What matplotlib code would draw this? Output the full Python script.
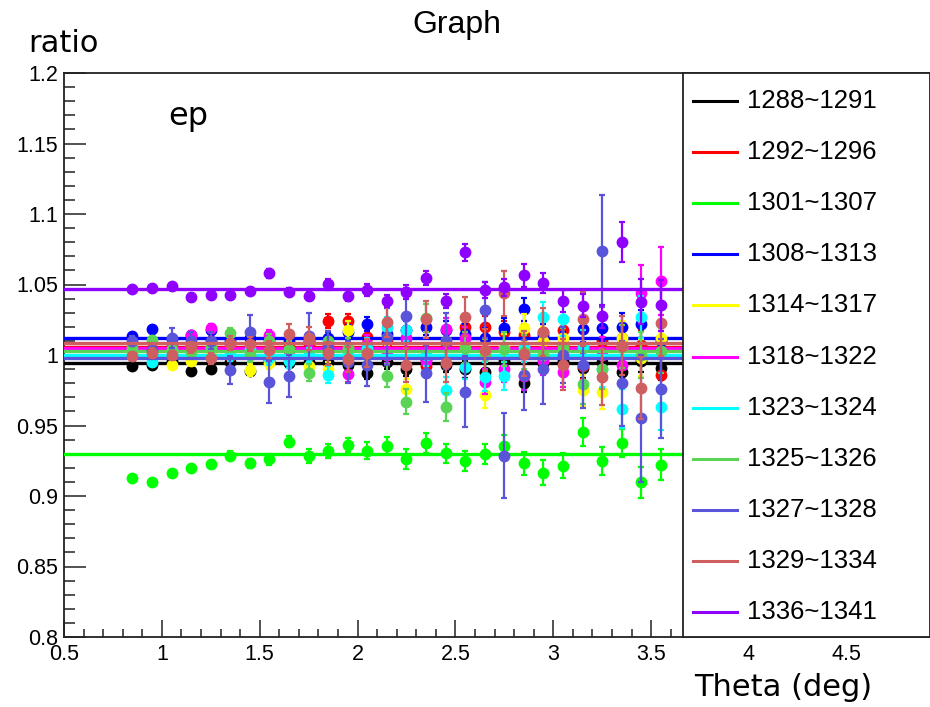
import matplotlib
matplotlib.use("Agg")
import matplotlib.pyplot as plt
from matplotlib.patches import Rectangle
from matplotlib.ticker import MultipleLocator

# theta bin centres (deg)
theta = [0.85, 0.95, 1.05, 1.15, 1.25, 1.35, 1.45, 1.55, 1.65, 1.75,
         1.85, 1.95, 2.05, 2.15, 2.25, 2.35, 2.45, 2.55, 2.65, 2.75,
         2.85, 2.95, 3.05, 3.15, 3.25, 3.35, 3.45, 3.55]

labels = ["1288~1291", "1292~1296", "1301~1307", "1308~1313", "1314~1317",
          "1318~1322", "1323~1324", "1325~1326", "1327~1328", "1329~1334",
          "1336~1341"]
colors = ["#000000", "#ff0000", "#00ff00", "#0000ff", "#ffff00",
          "#ff00ff", "#00ffff", "#59d454", "#5954d9", "#cf5e61", "#9000ff"]

# constant fit values
fits = [0.9945, 1.0060, 0.9300, 1.0121, 1.0040, 1.0047, 1.0000, 1.0030,
        0.9977, 1.0084, 1.0468]

r_1288 = [0.992, 0.993, 0.996, 0.989, 0.990, 0.995, 0.989, 0.996, 0.994, 0.995,
          0.995, 0.993, 0.987, 0.995, 0.990, 0.997, 0.993, 0.990, 0.988, 0.996,
          0.980, 0.994, 0.996, 0.991, 0.995, 0.988, 0.996, 0.991]
e_1288 = [0.001, 0.001, 0.002, 0.002, 0.002, 0.002, 0.003, 0.003, 0.003, 0.003,
          0.004, 0.004, 0.004, 0.005, 0.005, 0.005, 0.005, 0.006, 0.006, 0.006,
          0.006, 0.007, 0.007, 0.007, 0.008, 0.008, 0.008, 0.009]

r_1292 = [1.003, 1.004, 1.006, 1.007, 1.010, 0.999, 1.005, 1.010, 1.006, 1.008,
          1.0244, 1.0244, 1.013, 1.010, 1.012, 0.992, 1.006, 1.020, 1.020, 1.016,
          1.014, 1.016, 1.018, 0.992, 1.010, 1.012, 1.007, 0.986]
e_1292 = [0.002, 0.002, 0.002, 0.003, 0.003, 0.003, 0.004, 0.004, 0.004, 0.005,
          0.005, 0.005, 0.006, 0.006, 0.006, 0.007, 0.007, 0.007, 0.008, 0.008,
          0.008, 0.009, 0.009, 0.009, 0.010, 0.010, 0.011, 0.011]

r_1301 = [0.9125, 0.9099, 0.9165, 0.9199, 0.9227, 0.9286, 0.9232, 0.9260, 0.9385, 0.9286,
          0.9317, 0.9364, 0.9321, 0.9357, 0.9262, 0.9378, 0.9302, 0.9246, 0.9298, 0.9355,
          0.9232, 0.9165, 0.9215, 0.9452, 0.9248, 0.9374, 0.9097, 0.9220]
e_1301 = [0.001, 0.001, 0.001, 0.001, 0.002, 0.003, 0.003, 0.004, 0.004, 0.005,
          0.005, 0.005, 0.006, 0.006, 0.007, 0.007, 0.007, 0.007, 0.007, 0.008,
          0.008, 0.009, 0.009, 0.010, 0.010, 0.010, 0.011, 0.011]

r_1308 = [1.0135, 1.0187, 1.011, 1.0142, 1.018, 1.010, 1.012, 1.012, 1.010, 1.010,
          1.012, 1.016, 1.0218, 1.015, 1.018, 1.0202, 1.018, 1.015, 1.012, 1.019,
          1.0323, 1.014, 1.008, 1.0182, 1.019, 1.020, 1.022, 1.010]
e_1308 = [0.001, 0.001, 0.002, 0.002, 0.002, 0.003, 0.003, 0.003, 0.004, 0.004,
          0.004, 0.005, 0.005, 0.005, 0.006, 0.006, 0.006, 0.007, 0.007, 0.007,
          0.008, 0.008, 0.008, 0.009, 0.009, 0.010, 0.010, 0.011]

r_1314 = [1.002, 1.000, 0.993, 0.996, 1.003, 1.005, 0.9894, 0.994, 1.003, 0.992,
          0.990, 1.0178, 1.005, 1.000, 0.976, 1.000, 1.010, 1.005, 0.9717, 1.006,
          1.019, 1.010, 1.0118, 0.975, 0.974, 1.012, 0.998, 1.012]
e_1314 = [0.002, 0.002, 0.002, 0.003, 0.003, 0.003, 0.004, 0.004, 0.005, 0.005,
          0.005, 0.006, 0.006, 0.007, 0.007, 0.008, 0.008, 0.008, 0.009, 0.009,
          0.010, 0.010, 0.011, 0.011, 0.012, 0.012, 0.013, 0.013]

r_1318 = [1.005, 1.003, 1.008, 1.0142, 1.019, 1.008, 1.006, 1.014, 1.000, 1.010,
          1.008, 0.9866, 1.008, 1.000, 1.012, 0.996, 1.0182, 1.012, 0.981, 0.990,
          0.985, 0.996, 0.988, 1.006, 1.000, 0.993, 1.0437, 1.0525]
e_1318 = [0.002, 0.002, 0.002, 0.003, 0.003, 0.003, 0.004, 0.004, 0.004, 0.005,
          0.005, 0.006, 0.006, 0.006, 0.007, 0.007, 0.008, 0.008, 0.009, 0.009,
          0.010, 0.010, 0.011, 0.012, 0.013, 0.014, 0.020, 0.024]

r_1323 = [1.000, 0.9953, 1.002, 1.003, 1.005, 1.000, 1.004, 0.998, 0.996, 1.000,
          0.9859, 1.003, 1.005, 1.0202, 1.0178, 1.000, 0.9752, 0.9918, 0.9847, 0.985,
          1.006, 1.0267, 1.0255, 1.006, 0.990, 0.962, 1.027, 0.963]
e_1323 = [0.002, 0.002, 0.003, 0.003, 0.003, 0.004, 0.004, 0.005, 0.005, 0.005,
          0.006, 0.006, 0.007, 0.007, 0.008, 0.008, 0.009, 0.009, 0.010, 0.010,
          0.011, 0.011, 0.012, 0.012, 0.013, 0.014, 0.015, 0.016]

r_1325 = [1.005, 1.0107, 1.004, 1.002, 1.006, 1.0154, 1.000, 1.010, 1.004, 0.9875,
          1.010, 1.005, 1.000, 0.9854, 0.967, 1.026, 0.963, 1.005, 1.000, 1.004,
          1.002, 1.000, 1.006, 0.9796, 0.990, 1.006, 1.000, 1.003]
e_1325 = [0.002, 0.002, 0.003, 0.003, 0.004, 0.004, 0.005, 0.005, 0.006, 0.006,
          0.007, 0.007, 0.008, 0.008, 0.009, 0.010, 0.010, 0.011, 0.011, 0.012,
          0.012, 0.013, 0.013, 0.014, 0.014, 0.015, 0.016, 0.016]

r_1327 = [1.0102, 1.0036, 1.0123, 1.010, 1.010, 0.9894, 1.0166, 0.981, 0.9851, 1.0135,
          1.005, 0.995, 0.993, 1.013, 1.0277, 0.987, 1.010, 0.974, 1.032, 0.9286,
          0.9858, 0.990, 1.000, 0.9926, 1.0737, 0.980, 0.955, 0.976]
e_1327 = [0.003, 0.004, 0.007, 0.006, 0.006, 0.010, 0.012, 0.015, 0.015, 0.016,
          0.012, 0.015, 0.015, 0.020, 0.020, 0.020, 0.020, 0.025, 0.020, 0.030,
          0.025, 0.025, 0.020, 0.030, 0.040, 0.030, 0.045, 0.035]

r_1329 = [0.9993, 1.0017, 1.000, 1.0055, 0.9977, 1.0083, 1.0078, 1.0036, 1.0149, 1.0118,
          1.0012, 0.997, 1.0017, 1.0237, 0.993, 1.0253, 0.9941, 1.0272, 1.0036, 1.0437,
          1.001, 1.0165, 0.993, 1.0257, 0.9846, 1.0066, 0.9763, 1.023]
e_1329 = [0.002, 0.003, 0.003, 0.004, 0.004, 0.005, 0.005, 0.006, 0.007, 0.008,
          0.008, 0.009, 0.010, 0.011, 0.012, 0.013, 0.013, 0.014, 0.015, 0.016,
          0.016, 0.017, 0.018, 0.019, 0.020, 0.021, 0.022, 0.024]

r_1336 = [1.0466, 1.0473, 1.0492, 1.0409, 1.0423, 1.0423, 1.0454, 1.0579, 1.0447, 1.0418,
          1.0501, 1.0421, 1.0461, 1.0383, 1.0449, 1.0548, 1.0385, 1.0728, 1.0461, 1.0480,
          1.0565, 1.0510, 1.0383, 1.0350, 1.0274, 1.0800, 1.0378, 1.0353]
e_1336 = [0.001, 0.001, 0.001, 0.001, 0.001, 0.002, 0.002, 0.003, 0.003, 0.003,
          0.004, 0.004, 0.004, 0.004, 0.005, 0.005, 0.005, 0.006, 0.006, 0.006,
          0.008, 0.007, 0.008, 0.008, 0.008, 0.014, 0.016, 0.018]

ratios = [r_1288, r_1292, r_1301, r_1308, r_1314, r_1318, r_1323, r_1325,
          r_1327, r_1329, r_1336]
errors = [e_1288, e_1292, e_1301, e_1308, e_1314, e_1318, e_1323, e_1325,
          e_1327, e_1329, e_1336]

W, H = 930, 707
fig = plt.figure(figsize=(W / 100, H / 100), dpi=100)
ax = fig.add_axes([64 / W, 70 / H, 866 / W, 564 / H])

for i in range(len(labels)):
    z = 3 + 2 * i
    ax.errorbar(theta, ratios[i], yerr=errors[i], fmt='o', color=colors[i],
                markersize=7.5, elinewidth=1.6, capsize=2.5, capthick=1.6,
                zorder=z)
    ax.axhline(fits[i], color=colors[i], lw=2.4, zorder=z + 1)

ax.set_xlim(0.5, 0.5 + 866 / 195.7)
ax.set_ylim(0.8, 1.2)
ax.xaxis.set_major_locator(MultipleLocator(0.5))
ax.xaxis.set_minor_locator(MultipleLocator(0.1))
ax.yaxis.set_major_locator(MultipleLocator(0.05))
ax.yaxis.set_minor_locator(MultipleLocator(0.01))
ax.set_xticks([0.5, 1, 1.5, 2, 2.5, 3, 3.5, 4, 4.5])
ax.set_xticklabels(["0.5", "1", "1.5", "2", "2.5", "3", "3.5", "4", "4.5"])
ax.set_yticks([0.8, 0.85, 0.9, 0.95, 1.0, 1.05, 1.1, 1.15, 1.2])
ax.set_yticklabels(["0.8", "0.85", "0.9", "0.95", "1", "1.05", "1.1", "1.15", "1.2"])
ax.tick_params(axis='both', which='both', direction='in', top=False, right=False,
               labelsize=15.5, width=1.2, color='#333333')
ax.tick_params(axis='y', which='major', length=16, pad=4)
ax.tick_params(axis='y', which='minor', length=8)
ax.tick_params(axis='x', which='major', length=12, pad=5)
ax.tick_params(axis='x', which='minor', length=6)
for lab in ax.get_xticklabels() + ax.get_yticklabels():
    lab.set_fontfamily('Liberation Sans')
for s in ax.spines.values():
    s.set_linewidth(1.3)
    s.set_color('#222222')

# legend box drawn by hand, ROOT style
lx0 = (683 - 64) / 866
ax.add_patch(Rectangle((lx0, 0), 1 - lx0, 1, transform=ax.transAxes,
                       facecolor='white', edgecolor='#222222', lw=1.3,
                       zorder=50, clip_on=False))
for i, lab in enumerate(labels):
    yy = (637 - (101 + 51.1 * i)) / 564
    ax.plot([(693 - 64) / 866, (737 - 64) / 866], [yy, yy], transform=ax.transAxes,
            color=colors[i], lw=2.2, zorder=51, clip_on=False)
    ax.text((747 - 64) / 866, yy, lab, transform=ax.transAxes, fontsize=18.5,
            family='Liberation Sans', va='center', ha='left', zorder=52)

ax.text(1.134, 1.169, "ep", fontsize=23, family='DejaVu Sans', ha='center', va='center')

fig.text(457 / W, 1 - 25 / H, "Graph", fontsize=23, family='Liberation Sans',
         ha='center', va='center')
fig.text(28 / W, 1 - 44 / H, "ratio", fontsize=22, family='DejaVu Sans',
         ha='left', va='center')
fig.text(872 / W, 1 - 687 / H, "Theta (deg)", fontsize=22, family='DejaVu Sans',
         ha='right', va='center')

fig.savefig("out.png", dpi=100)
